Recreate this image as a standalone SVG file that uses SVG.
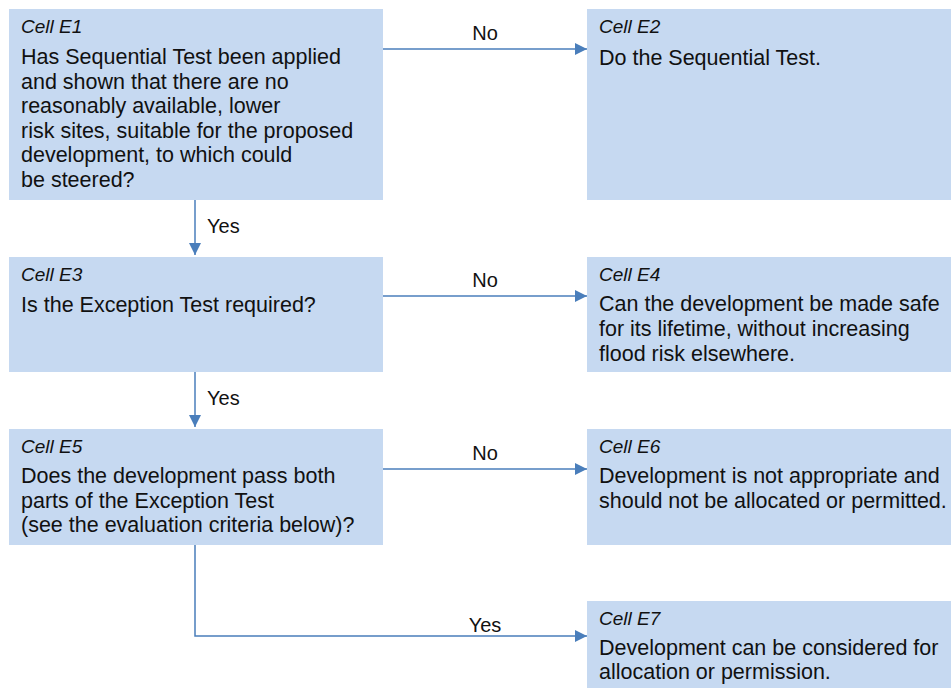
<svg xmlns="http://www.w3.org/2000/svg" width="951" height="688" viewBox="0 0 951 688">
<defs>
<marker id="arr" markerWidth="12" markerHeight="12" viewBox="0 0 12 12" refX="12" refY="6" orient="auto" markerUnits="userSpaceOnUse">
<path d="M0,0 L12,6 L0,12 Z" fill="#4A7EBB"/>
</marker>
<style>
.box{fill:#C6D9F1;stroke:none}
.cell{font-family:"Liberation Sans",Arial,sans-serif;font-size:19px;font-style:italic;fill:#111}
.txt{font-family:"Liberation Sans",Arial,sans-serif;font-size:21.5px;fill:#111}
.lbl{font-family:"Liberation Sans",Arial,sans-serif;font-size:20px;fill:#111}
.con{fill:none;stroke:#4A7EBB;stroke-width:1.5;marker-end:url(#arr)}
</style>
</defs>
<rect width="951" height="688" fill="#fff"/>
<g id="E1">
<rect class="box" x="9" y="9" width="374" height="191"/>
<text class="cell" x="21" y="33">Cell E1</text>
<text class="txt"><tspan x="21" y="64">Has Sequential Test been applied</tspan><tspan x="21" y="89">and shown that there are no</tspan><tspan x="21" y="113">reasonably available, lower</tspan><tspan x="21" y="138">risk sites, suitable for the proposed</tspan><tspan x="21" y="162">development, to which could</tspan><tspan x="21" y="187">be steered?</tspan></text>
</g>
<g id="E2">
<rect class="box" x="587" y="9" width="364" height="191"/>
<text class="cell" x="599" y="33">Cell E2</text>
<text class="txt" x="599" y="65">Do the Sequential Test.</text>
</g>
<g id="E3">
<rect class="box" x="9" y="257" width="374" height="115"/>
<text class="cell" x="21" y="281">Cell E3</text>
<text class="txt" x="21" y="312">Is the Exception Test required?</text>
</g>
<g id="E4">
<rect class="box" x="587" y="257" width="364" height="115"/>
<text class="cell" x="599" y="281">Cell E4</text>
<text class="txt"><tspan x="599" y="311">Can the development be made safe</tspan><tspan x="599" y="336">for its lifetime, without increasing</tspan><tspan x="599" y="361">flood risk elsewhere.</tspan></text>
</g>
<g id="E5">
<rect class="box" x="9" y="429" width="374" height="116"/>
<text class="cell" x="21" y="453">Cell E5</text>
<text class="txt"><tspan x="21" y="483">Does the development pass both</tspan><tspan x="21" y="508">parts of the Exception Test</tspan><tspan x="21" y="532">(see the evaluation criteria below)?</tspan></text>
</g>
<g id="E6">
<rect class="box" x="587" y="429" width="364" height="116"/>
<text class="cell" x="599" y="453">Cell E6</text>
<text class="txt"><tspan x="599" y="483">Development is not appropriate and</tspan><tspan x="599" y="508">should not be allocated or permitted.</tspan></text>
</g>
<g id="E7">
<rect class="box" x="587" y="601" width="364" height="87"/>
<text class="cell" x="599" y="625">Cell E7</text>
<text class="txt"><tspan x="599" y="655">Development can be considered for</tspan><tspan x="599" y="679">allocation or permission.</tspan></text>
</g>
<g id="connectors">
<path class="con" d="M383,49 H587"/>
<text class="lbl" x="485" y="40" text-anchor="middle">No</text>
<path class="con" d="M195,200 V255"/>
<text class="lbl" x="207" y="233">Yes</text>
<path class="con" d="M383,296 H587"/>
<text class="lbl" x="485" y="287" text-anchor="middle">No</text>
<path class="con" d="M195,372 V427"/>
<text class="lbl" x="207" y="405">Yes</text>
<path class="con" d="M383,469 H587"/>
<text class="lbl" x="485" y="460" text-anchor="middle">No</text>
<path class="con" d="M195,545 V636 H587"/>
<text class="lbl" x="485" y="632" text-anchor="middle">Yes</text>
</g>
</svg>
